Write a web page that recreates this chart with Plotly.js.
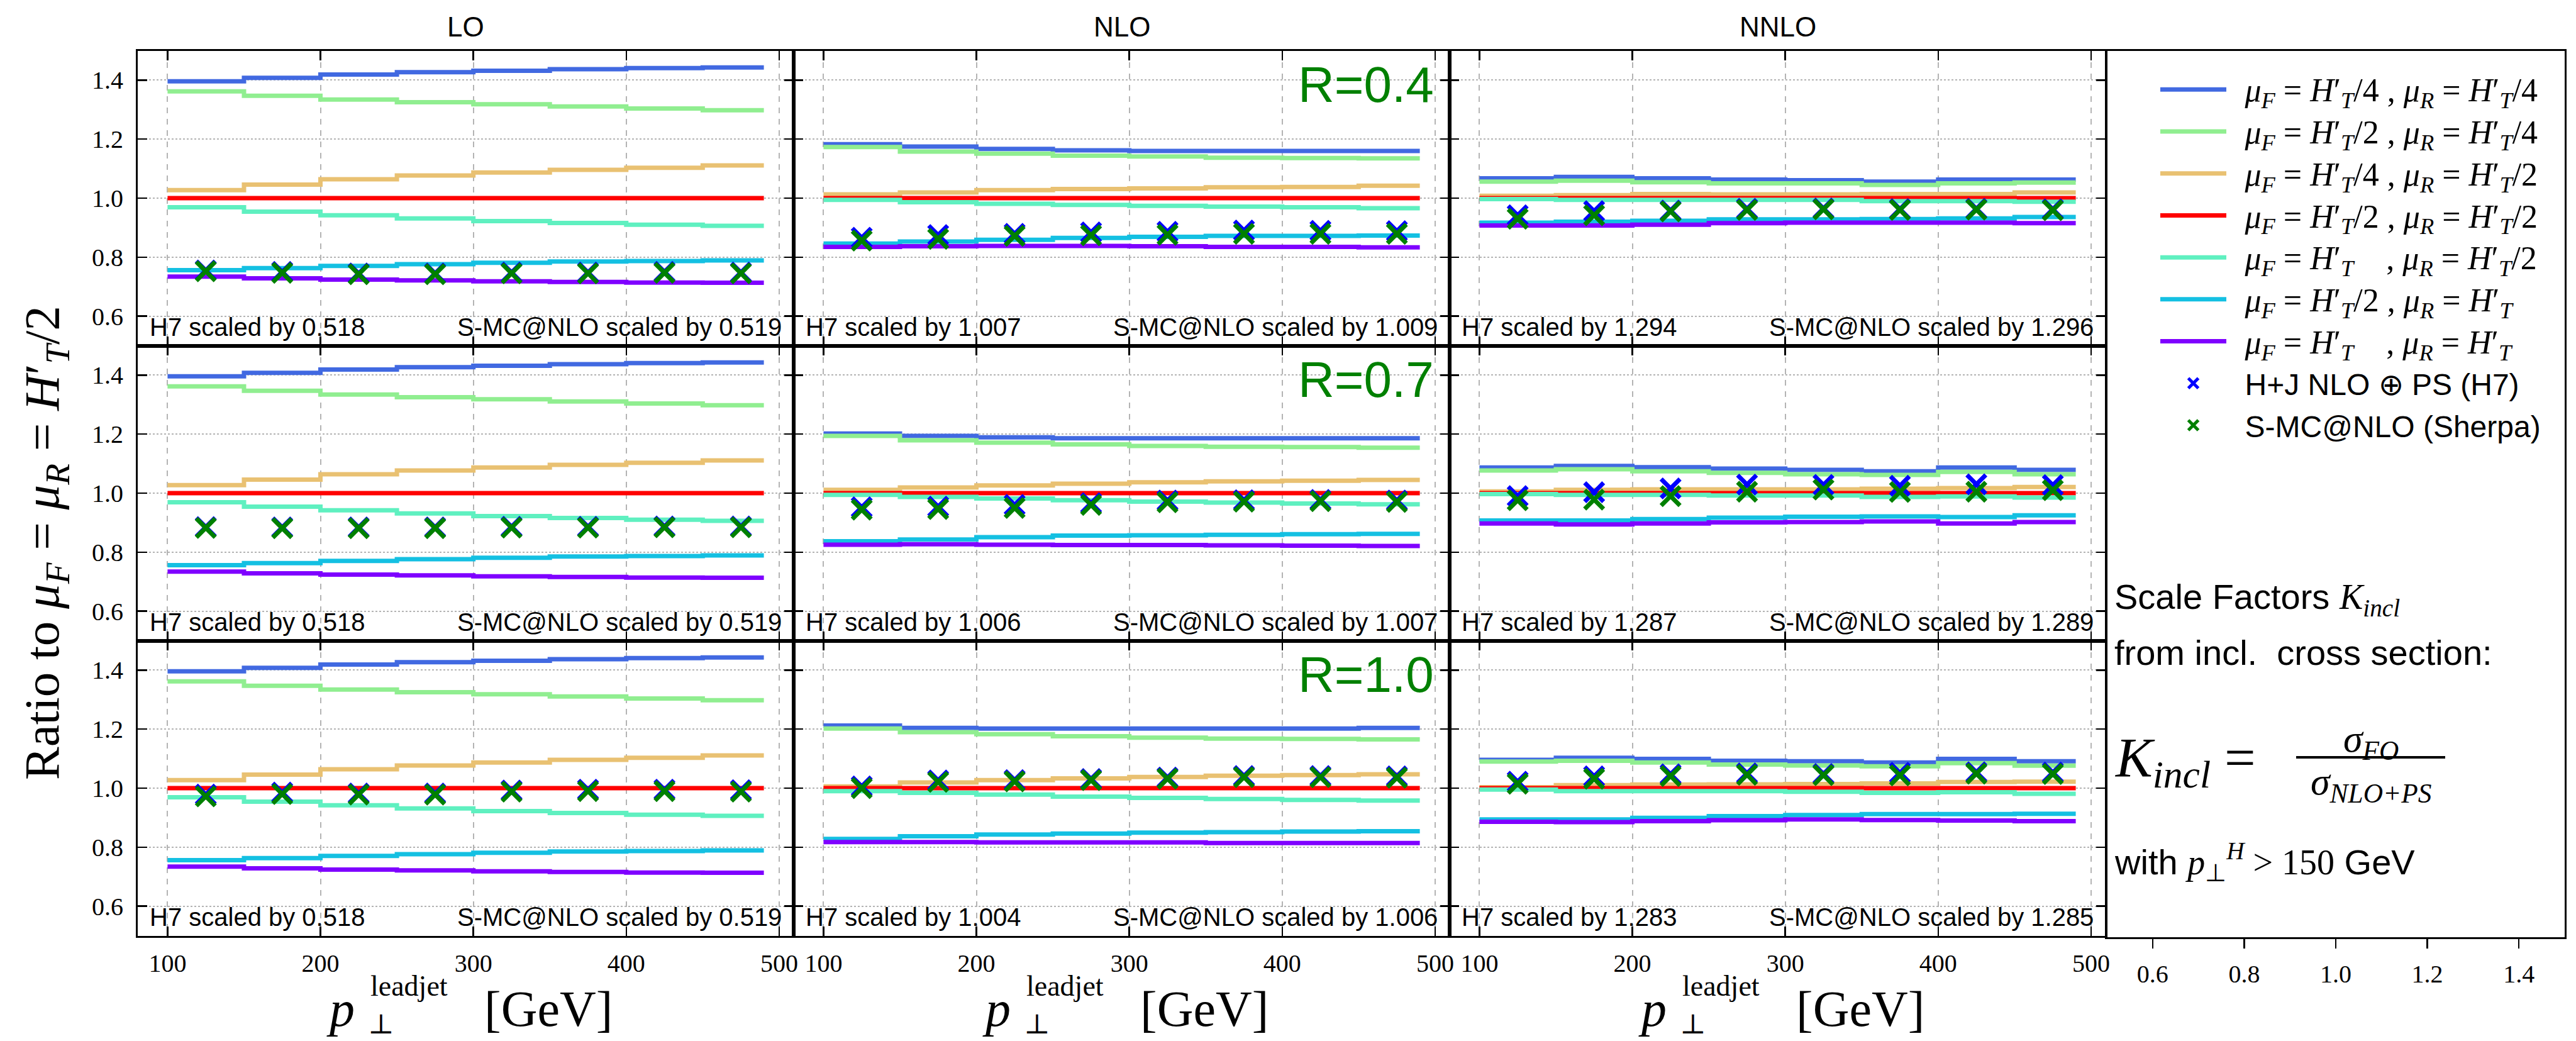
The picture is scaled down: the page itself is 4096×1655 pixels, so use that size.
<!DOCTYPE html>
<html><head><meta charset="utf-8">
<script src="https://cdn.plot.ly/plotly-3.0.1.min.js"></script>
<style>html,body{margin:0;padding:0;background:#fff;overflow:hidden}</style>
</head><body><div id="chart" style="width:4096px;height:1655px"></div>
<script>
// ---------------- DATA ----------------
const orders = ['LO', 'NLO', 'NNLO'];
const jetRadii = ['R=0.4', 'R=0.7', 'R=1.0'];
const stepEdges = [100, 150, 200, 250, 300, 350, 400, 450, 490];
const binCenters = [125, 175, 225, 275, 325, 375, 425, 475];
const scaleLabels = [
  '<i>μ</i><sub><i>F</i></sub> = <i>H</i>′<sub><i>T</i></sub>/4 , <i>μ</i><sub><i>R</i></sub> = <i>H</i>′<sub><i>T</i></sub>/4',
  '<i>μ</i><sub><i>F</i></sub> = <i>H</i>′<sub><i>T</i></sub>/2 , <i>μ</i><sub><i>R</i></sub> = <i>H</i>′<sub><i>T</i></sub>/4',
  '<i>μ</i><sub><i>F</i></sub> = <i>H</i>′<sub><i>T</i></sub>/4 , <i>μ</i><sub><i>R</i></sub> = <i>H</i>′<sub><i>T</i></sub>/2',
  '<i>μ</i><sub><i>F</i></sub> = <i>H</i>′<sub><i>T</i></sub>/2 , <i>μ</i><sub><i>R</i></sub> = <i>H</i>′<sub><i>T</i></sub>/2',
  '<i>μ</i><sub><i>F</i></sub> = <i>H</i>′<sub><i>T</i></sub>\u00A0\u00A0\u00A0\u00A0, <i>μ</i><sub><i>R</i></sub> = <i>H</i>′<sub><i>T</i></sub>/2',
  '<i>μ</i><sub><i>F</i></sub> = <i>H</i>′<sub><i>T</i></sub>/2 , <i>μ</i><sub><i>R</i></sub> = <i>H</i>′<sub><i>T</i></sub>',
  '<i>μ</i><sub><i>F</i></sub> = <i>H</i>′<sub><i>T</i></sub>\u00A0\u00A0\u00A0\u00A0, <i>μ</i><sub><i>R</i></sub> = <i>H</i>′<sub><i>T</i></sub>'
];
const h7Label = 'H+J NLO ⊕ PS (H7)';
const sherpaLabel = 'S-MC@NLO (Sherpa)';

// LO (identical for all jet radii)
const lo_f4r4 = [1.396, 1.408, 1.419, 1.427, 1.432, 1.437, 1.441, 1.443];
const lo_f2r4 = [1.362, 1.347, 1.334, 1.325, 1.318, 1.311, 1.304, 1.298];
const lo_f4r2 = [1.027, 1.046, 1.064, 1.077, 1.087, 1.096, 1.103, 1.111];
const lo_f2r2 = [1.000, 1.000, 1.000, 1.000, 1.000, 1.000, 1.000, 1.000];
const lo_f1r2 = [0.969, 0.954, 0.942, 0.931, 0.922, 0.916, 0.910, 0.906];
const lo_f2r1 = [0.756, 0.763, 0.770, 0.776, 0.781, 0.785, 0.787, 0.789];
const lo_f1r1 = [0.734, 0.728, 0.724, 0.721, 0.718, 0.716, 0.714, 0.713];
// NLO R=0.4
const nlo04_f4r4 = [1.183, 1.175, 1.167, 1.162, 1.160, 1.160, 1.160, 1.160];
const nlo04_f2r4 = [1.173, 1.158, 1.151, 1.144, 1.141, 1.137, 1.136, 1.135];
const nlo04_f4r2 = [1.013, 1.019, 1.027, 1.031, 1.033, 1.037, 1.038, 1.042];
const nlo04_f2r2 = [1.000, 1.000, 1.000, 1.000, 1.000, 1.000, 1.000, 1.000];
const nlo04_f1r2 = [0.994, 0.986, 0.981, 0.977, 0.974, 0.971, 0.969, 0.966];
const nlo04_f2r1 = [0.846, 0.853, 0.859, 0.865, 0.869, 0.872, 0.872, 0.873];
const nlo04_f1r1 = [0.835, 0.837, 0.838, 0.838, 0.837, 0.835, 0.835, 0.833];
// NLO R=0.7
const nlo07_f4r4 = [1.202, 1.194, 1.189, 1.186, 1.186, 1.186, 1.186, 1.186];
const nlo07_f2r4 = [1.194, 1.179, 1.171, 1.165, 1.160, 1.157, 1.156, 1.154];
const nlo07_f4r2 = [1.011, 1.019, 1.026, 1.032, 1.037, 1.040, 1.042, 1.045];
const nlo07_f2r2 = [1.000, 1.000, 1.000, 1.000, 1.000, 1.000, 1.000, 1.000];
const nlo07_f1r2 = [0.994, 0.987, 0.982, 0.976, 0.971, 0.968, 0.965, 0.962];
const nlo07_f2r1 = [0.837, 0.843, 0.851, 0.856, 0.857, 0.859, 0.861, 0.862];
const nlo07_f1r1 = [0.825, 0.827, 0.825, 0.824, 0.824, 0.823, 0.822, 0.821];
// NLO R=1.0
const nlo10_f4r4 = [1.212, 1.204, 1.202, 1.202, 1.202, 1.202, 1.202, 1.204];
const nlo10_f2r4 = [1.202, 1.190, 1.183, 1.176, 1.171, 1.168, 1.167, 1.165];
const nlo10_f4r2 = [1.006, 1.019, 1.027, 1.033, 1.038, 1.042, 1.044, 1.047];
const nlo10_f2r2 = [1.000, 1.000, 1.000, 1.000, 1.000, 1.000, 1.000, 1.000];
const nlo10_f1r2 = [0.990, 0.984, 0.978, 0.971, 0.967, 0.963, 0.960, 0.958];
const nlo10_f2r1 = [0.828, 0.837, 0.843, 0.846, 0.849, 0.851, 0.853, 0.854];
const nlo10_f1r1 = [0.817, 0.817, 0.816, 0.816, 0.816, 0.814, 0.814, 0.814];
// NNLO R=0.4
const nnlo04_f4r4 = [1.067, 1.072, 1.067, 1.063, 1.061, 1.056, 1.063, 1.063];
const nnlo04_f2r4 = [1.056, 1.059, 1.054, 1.050, 1.050, 1.045, 1.050, 1.053];
const nnlo04_f4r2 = [1.008, 1.010, 1.014, 1.013, 1.013, 1.014, 1.014, 1.019];
const nnlo04_f2r2 = [1.000, 1.000, 1.000, 1.000, 1.000, 1.000, 1.000, 1.000];
const nnlo04_f1r2 = [0.997, 0.994, 0.994, 0.994, 0.994, 0.990, 0.990, 0.988];
const nnlo04_f2r1 = [0.917, 0.920, 0.923, 0.928, 0.928, 0.929, 0.931, 0.936];
const nnlo04_f1r1 = [0.907, 0.907, 0.910, 0.915, 0.917, 0.917, 0.917, 0.915];
// NNLO R=0.7
const nnlo07_f4r4 = [1.087, 1.092, 1.088, 1.083, 1.079, 1.074, 1.087, 1.079];
const nnlo07_f2r4 = [1.077, 1.081, 1.074, 1.069, 1.064, 1.062, 1.072, 1.064];
const nnlo07_f4r2 = [1.006, 1.011, 1.013, 1.013, 1.013, 1.015, 1.017, 1.021];
const nnlo07_f2r2 = [1.000, 1.000, 1.000, 1.000, 1.000, 1.000, 1.000, 1.000];
const nnlo07_f1r2 = [0.997, 0.994, 0.994, 0.992, 0.992, 0.987, 0.989, 0.985];
const nnlo07_f2r1 = [0.907, 0.907, 0.912, 0.917, 0.920, 0.921, 0.919, 0.925];
const nnlo07_f1r1 = [0.897, 0.894, 0.897, 0.901, 0.902, 0.904, 0.897, 0.902];
// NNLO R=1.0
const nnlo10_f4r4 = [1.096, 1.103, 1.099, 1.093, 1.091, 1.087, 1.099, 1.091];
const nnlo10_f2r4 = [1.090, 1.093, 1.087, 1.080, 1.077, 1.074, 1.085, 1.076];
const nnlo10_f4r2 = [1.003, 1.010, 1.012, 1.013, 1.014, 1.016, 1.021, 1.022];
const nnlo10_f2r2 = [1.000, 1.000, 1.000, 1.000, 1.000, 1.000, 1.000, 1.000];
const nnlo10_f1r2 = [0.995, 0.990, 0.990, 0.990, 0.988, 0.984, 0.986, 0.981];
const nnlo10_f2r1 = [0.894, 0.894, 0.899, 0.905, 0.909, 0.912, 0.912, 0.913];
const nnlo10_f1r1 = [0.886, 0.885, 0.888, 0.891, 0.894, 0.892, 0.890, 0.888];

// NLO+PS predictions (H7 and Sherpa), ratio after scaling
const h7_lo_04 = [0.755, 0.750, 0.745, 0.745, 0.748, 0.748, 0.750, 0.748];
const sh_lo_04 = [0.752, 0.747, 0.742, 0.742, 0.745, 0.745, 0.747, 0.745];
const h7_lo_07 = [0.885, 0.884, 0.884, 0.884, 0.886, 0.886, 0.887, 0.887];
const sh_lo_07 = [0.882, 0.881, 0.881, 0.881, 0.883, 0.883, 0.884, 0.884];
const h7_lo_10 = [0.978, 0.985, 0.982, 0.982, 0.992, 0.995, 0.995, 0.993];
const sh_lo_10 = [0.972, 0.980, 0.978, 0.978, 0.988, 0.990, 0.990, 0.988];
const h7_nlo_04 = [0.866, 0.875, 0.879, 0.884, 0.886, 0.890, 0.889, 0.888];
const sh_nlo_04 = [0.856, 0.862, 0.872, 0.874, 0.876, 0.879, 0.879, 0.879];
const h7_nlo_07 = [0.952, 0.954, 0.960, 0.966, 0.975, 0.976, 0.977, 0.975];
const sh_nlo_07 = [0.944, 0.946, 0.950, 0.960, 0.969, 0.971, 0.973, 0.970];
const h7_nlo_10 = [1.006, 1.026, 1.027, 1.031, 1.036, 1.041, 1.041, 1.040];
const sh_nlo_10 = [1.000, 1.021, 1.023, 1.027, 1.032, 1.037, 1.037, 1.035];
const h7_nnlo_04 = [0.942, 0.956, 0.958, 0.964, 0.965, 0.963, 0.964, 0.962];
const sh_nnlo_04 = [0.930, 0.942, 0.955, 0.960, 0.962, 0.960, 0.961, 0.959];
const h7_nnlo_07 = [0.990, 1.003, 1.016, 1.029, 1.028, 1.025, 1.030, 1.027];
const sh_nnlo_07 = [0.976, 0.978, 0.990, 1.005, 1.012, 1.004, 1.005, 1.010];
const h7_nnlo_10 = [1.022, 1.040, 1.047, 1.050, 1.048, 1.052, 1.054, 1.053];
const sh_nnlo_10 = [1.015, 1.032, 1.041, 1.045, 1.044, 1.043, 1.049, 1.048];

// scale factors printed in each panel
const h7ScaleLO = [0.518, 0.518, 0.518];
const h7ScaleNLO = [1.007, 1.006, 1.004];
const h7ScaleNNLO = [1.294, 1.287, 1.283];
const smcScaleLO = [0.519, 0.519, 0.519];
const smcScaleNLO = [1.009, 1.007, 1.006];
const smcScaleNNLO = [1.296, 1.289, 1.285];

// ---------------- STYLE / LAYOUT ----------------
const lineColors = ['#4169e1', '#90ee90', '#e9c172', '#ff0000', '#5ff0c0', '#14c0e2', '#7f00ff'];
const W = 4096, H = 1655;
const colPx = [[219, 1262], [1262, 2305], [2305, 3348]];
const rowPx = [[80.5, 549.5], [549.5, 1018.5], [1018.5, 1487.5]];
const rightPx = [3350, 4078];
const SANS = "'Liberation Sans', Arial, sans-serif";
const SERIF = "'Liberation Serif', 'DejaVu Serif', serif";
const TICKFONT = {family: SERIF, size: 40, color: '#000'};
const LEG_TXT = 52;

function legendName(html, fam, size) {
  return '\u2002<span style="font-family:' + fam + ';font-size:' + size + 'px">' + html + '</span>';
}

// tables built from the named arrays: [row][col]
const lineTable = [
  [[lo_f4r4, lo_f2r4, lo_f4r2, lo_f2r2, lo_f1r2, lo_f2r1, lo_f1r1],
   [nlo04_f4r4, nlo04_f2r4, nlo04_f4r2, nlo04_f2r2, nlo04_f1r2, nlo04_f2r1, nlo04_f1r1],
   [nnlo04_f4r4, nnlo04_f2r4, nnlo04_f4r2, nnlo04_f2r2, nnlo04_f1r2, nnlo04_f2r1, nnlo04_f1r1]],
  [[lo_f4r4, lo_f2r4, lo_f4r2, lo_f2r2, lo_f1r2, lo_f2r1, lo_f1r1],
   [nlo07_f4r4, nlo07_f2r4, nlo07_f4r2, nlo07_f2r2, nlo07_f1r2, nlo07_f2r1, nlo07_f1r1],
   [nnlo07_f4r4, nnlo07_f2r4, nnlo07_f4r2, nnlo07_f2r2, nnlo07_f1r2, nnlo07_f2r1, nnlo07_f1r1]],
  [[lo_f4r4, lo_f2r4, lo_f4r2, lo_f2r2, lo_f1r2, lo_f2r1, lo_f1r1],
   [nlo10_f4r4, nlo10_f2r4, nlo10_f4r2, nlo10_f2r2, nlo10_f1r2, nlo10_f2r1, nlo10_f1r1],
   [nnlo10_f4r4, nnlo10_f2r4, nnlo10_f4r2, nnlo10_f2r2, nnlo10_f1r2, nnlo10_f2r1, nnlo10_f1r1]]
];
const h7Table = [[h7_lo_04, h7_nlo_04, h7_nnlo_04], [h7_lo_07, h7_nlo_07, h7_nnlo_07], [h7_lo_10, h7_nlo_10, h7_nnlo_10]];
const shTable = [[sh_lo_04, sh_nlo_04, sh_nnlo_04], [sh_lo_07, sh_nlo_07, sh_nnlo_07], [sh_lo_10, sh_nlo_10, sh_nnlo_10]];
const h7Scales = [h7ScaleLO, h7ScaleNLO, h7ScaleNNLO];
const smcScales = [smcScaleLO, smcScaleNLO, smcScaleNNLO];

const traces = [];
const layout = {
  width: W, height: H,
  margin: {l: 0, r: 0, t: 0, b: 0},
  paper_bgcolor: '#ffffff', plot_bgcolor: '#ffffff',
  showlegend: true,
  legend: {
    x: 3430 / W, y: 1 - 104 / H, xanchor: 'left', yanchor: 'top',
    font: {family: SERIF, size: 49, color: '#000'},
    bgcolor: 'rgba(0,0,0,0)', borderwidth: 0, itemwidth: 105,
    traceorder: 'normal', tracegroupgap: 0
  },
  annotations: [], shapes: []
};

function paperAnn(xPx, yPx, text, font, extra) {
  return Object.assign({xref: 'paper', yref: 'paper', x: xPx / W, y: 1 - yPx / H,
    xanchor: 'left', yanchor: 'middle', text: text, showarrow: false, font: font}, extra || {});
}

for (let r = 0; r < 3; r++) {
  for (let c = 0; c < 3; c++) {
    const p = r * 3 + c + 1;
    const xa = p === 1 ? 'x' : 'x' + p;
    const ya = p === 1 ? 'y' : 'y' + p;
    layout['xaxis' + (p === 1 ? '' : p)] = {
      domain: [colPx[c][0] / W, colPx[c][1] / W], anchor: ya,
      range: [80.5, 509.5], tick0: 100, dtick: 100,
      showticklabels: r === 2, ticks: 'inside', ticklen: 15, tickwidth: 2.5, tickcolor: '#000',
      mirror: 'allticks', showline: true, linewidth: 3, linecolor: '#000',
      showgrid: true, gridcolor: '#b4b4b4', gridwidth: 2, griddash: 'dash', zeroline: false,
      tickfont: TICKFONT, ticklabelstandoff: 6
    };
    layout['yaxis' + (p === 1 ? '' : p)] = {
      domain: [1 - rowPx[r][1] / H, 1 - rowPx[r][0] / H], anchor: xa,
      range: [0.5, 1.5], tick0: 0.6, dtick: 0.2, tickformat: '.1f',
      showticklabels: c === 0, ticks: 'inside', ticklen: 15, tickwidth: 2.5, tickcolor: '#000',
      mirror: 'allticks', showline: true, linewidth: 3, linecolor: '#000',
      showgrid: true, gridcolor: '#b4b4b4', gridwidth: 2, griddash: 'dot', zeroline: false,
      tickfont: TICKFONT, ticklabelstandoff: 12
    };
    const lines = lineTable[r][c];
    for (let k = 0; k < lines.length; k++) {
      traces.push({
        type: 'scatter', mode: 'lines', xaxis: xa, yaxis: ya,
        x: stepEdges, y: lines[k].concat([lines[k][lines[k].length - 1]]),
        line: {shape: 'hv', color: lineColors[k], width: 7},
        name: legendName(scaleLabels[k], "'Liberation Serif',serif", LEG_TXT),
        showlegend: p === 1, hoverinfo: 'skip'
      });
    }
    traces.push({
      type: 'scatter', mode: 'markers', xaxis: xa, yaxis: ya,
      x: binCenters, y: h7Table[r][c],
      marker: {symbol: 'x-thin', size: 30, color: '#0000ff', line: {color: '#0000ff', width: 7}},
      name: legendName(h7Label, "'Liberation Sans',sans-serif", 48),
      showlegend: p === 1, hoverinfo: 'skip'
    });
    traces.push({
      type: 'scatter', mode: 'markers', xaxis: xa, yaxis: ya,
      x: binCenters, y: shTable[r][c],
      marker: {symbol: 'x-thin', size: 30, color: '#008000', line: {color: '#008000', width: 7}},
      name: legendName(sherpaLabel, "'Liberation Sans',sans-serif", 48),
      showlegend: p === 1, hoverinfo: 'skip'
    });
    // scale factor texts
    layout.annotations.push({
      xref: xa + ' domain', yref: ya + ' domain', x: 0.016, y: 0.062, xanchor: 'left', yanchor: 'middle',
      text: 'H7 scaled by ' + h7Scales[c][r].toFixed(3), showarrow: false,
      font: {family: SANS, size: 40, color: '#000'}
    });
    layout.annotations.push({
      xref: xa + ' domain', yref: ya + ' domain', x: 0.984, y: 0.062, xanchor: 'right', yanchor: 'middle',
      text: 'S-MC@NLO scaled by ' + smcScales[c][r].toFixed(3), showarrow: false,
      font: {family: SANS, size: 40, color: '#000'}
    });
    if (c === 1) {
      layout.annotations.push({
        xref: xa + ' domain', yref: ya + ' domain', x: 0.978, y: 0.885, xanchor: 'right', yanchor: 'middle',
        text: jetRadii[r], showarrow: false, font: {family: SANS, size: 80, color: '#008000'}
      });
    }
    if (r === 0) {
      layout.annotations.push(paperAnn((colPx[c][0] + colPx[c][1]) / 2, 42, orders[c],
        {family: SANS, size: 44, color: '#000'}, {xanchor: 'center'}));
    }
    if (r === 2) {
      const x0 = colPx[c][0];
      const tf = {family: SERIF, size: 80, color: '#000'};
      layout.annotations.push(paperAnn(x0 + 298, 1604, '<i>p</i>', tf));
      layout.annotations.push(paperAnn(x0 + 368, 1567, 'leadjet', {family: SERIF, size: 46, color: '#000'}));
      layout.annotations.push(paperAnn(x0 + 364, 1628, '⊥', {family: SERIF, size: 44, color: '#000'}));
      layout.annotations.push(paperAnn(x0 + 549, 1604, '[GeV]', tf));
    }
  }
}

// right panel (empty axes holding legend and explanations)
layout.xaxis10 = {
  domain: [rightPx[0] / W, rightPx[1] / W], anchor: 'y10', range: [0.5, 1.5], tick0: 0.6, dtick: 0.2,
  tickformat: '.1f', ticks: 'outside', ticklen: 15, tickwidth: 2.5, tickcolor: '#000',
  showline: true, mirror: true, linewidth: 3, linecolor: '#000', showgrid: false, zeroline: false,
  tickfont: TICKFONT, ticklabelstandoff: 6
};
layout.yaxis10 = {
  domain: [1 - 1490 / H, 1 - rowPx[0][0] / H], anchor: 'x10', range: [0, 1],
  showticklabels: false, ticks: '', showline: true, mirror: true, linewidth: 3, linecolor: '#000',
  showgrid: false, zeroline: false
};
traces.push({type: 'scatter', mode: 'none', x: [], y: [], xaxis: 'x10', yaxis: 'y10', showlegend: false, hoverinfo: 'skip'});

// y title (rotated; bottom end of the text anchored)
layout.annotations.push(paperAnn(72, 1242,
  'Ratio to <i>μ</i><sub><i>F</i></sub> = <i>μ</i><sub><i>R</i></sub> = <i>H</i>′<sub><i>T</i></sub>/2',
  {family: SERIF, size: 79, color: '#000'}, {xanchor: 'center', yanchor: 'bottom', textangle: -90}));

// explanatory text in right panel
const leftTxt = 3360;
layout.annotations.push(paperAnn(leftTxt, 952,
  'Scale Factors <span style="font-family:\'Liberation Serif\',serif"><i>K</i><sub><i>incl</i></sub></span>',
  {family: SANS, size: 56, color: '#000'}));
layout.annotations.push(paperAnn(leftTxt, 1037, 'from incl.  cross section:', {family: SANS, size: 56, color: '#000'}));
layout.annotations.push(paperAnn(leftTxt, 1210, '<i>K</i><sub><i>incl</i></sub> =', {family: SERIF, size: 88, color: '#000'}));
layout.annotations.push(paperAnn(3770, 1178, '<i>σ</i><sub><i>FO</i></sub>', {family: SERIF, size: 62, color: '#000'}, {xanchor: 'center'}));
layout.annotations.push(paperAnn(3770, 1246, '<i>σ</i><sub><i>NLO+PS</i></sub>', {family: SERIF, size: 62, color: '#000'}, {xanchor: 'center'}));
layout.shapes.push({
  type: 'line', xref: 'paper', yref: 'paper', x0: 3651 / W, x1: 3888 / W, y0: 1 - 1204 / H, y1: 1 - 1204 / H,
  line: {color: '#000', width: 4}
});
layout.annotations.push(paperAnn(leftTxt, 1370,
  'with <span style="font-family:\'Liberation Serif\',serif"><i>p</i><sub>⊥</sub><sup><i>H</i></sup> &gt; 150</span> GeV',
  {family: SANS, size: 56, color: '#000'}));

Plotly.newPlot('chart', traces, layout, {staticPlot: true, displayModeBar: false});
</script></body></html>
